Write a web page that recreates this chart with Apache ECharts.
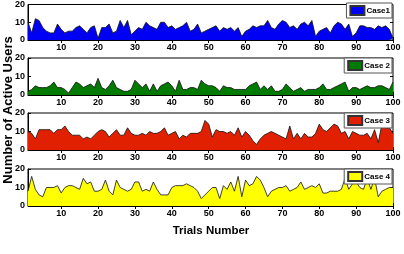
<!DOCTYPE html>
<html>
<head>
<meta charset="utf-8">
<script src="https://cdn.jsdelivr.net/npm/echarts@6/dist/echarts.min.js"></script>
<style>
  html, body { margin: 0; padding: 0; background: #fff; }
  #chart { width: 404px; height: 254px; }
</style>
</head>
<body>
<div id="chart"></div>
<script>
// trial numbers 1..100
const trials = [];
for (let i = 1; i <= 100; i++) trials.push(i);

const seriesNames = ['Case1', 'Case 2', 'Case 3', 'Case 4'];
const fillColors = ['#0000F5', '#007A00', '#E02000', '#FFFF00'];

const case1 = [10, 4, 12, 11, 7, 5, 4, 4, 9, 6,
  4, 5, 5, 7, 8, 6, 4, 7, 8, 1,
  7, 7, 9, 4, 5, 11, 7, 11, 3, 5,
  7, 6, 10, 8, 7, 6, 10, 10, 7, 8,
  6, 7, 8, 10, 5, 6, 9, 4, 5, 6,
  7, 8, 5, 7, 6, 7, 5, 7, 2, 5,
  6, 8, 7, 8, 8, 11, 7, 6, 9, 11,
  10, 7, 8, 6, 9, 10, 8, 11, 2, 5,
  6, 7, 4, 8, 10, 9, 6, 9, 2, 4,
  8, 8, 7, 7, 6, 8, 7, 8, 6, 1];

const case2 = [2, 3, 5, 4, 4, 4, 5, 7, 4, 4,
  3, 1, 4, 7, 6, 4, 5, 6, 4, 9,
  4, 3, 5, 8, 4, 3, 2, 2, 3, 8,
  6, 4, 6, 2, 6, 2, 5, 6, 7, 5,
  2, 8, 3, 3, 4, 4, 3, 8, 6, 5,
  5, 4, 2, 5, 4, 4, 3, 3, 3, 3,
  5, 6, 7, 3, 5, 3, 5, 2, 2, 3,
  6, 4, 2, 3, 4, 2, 3, 3, 3, 4,
  6, 3, 3, 4, 5, 6, 7, 2, 4, 4,
  3, 4, 5, 4, 4, 5, 5, 4, 3, 7];

const case3 = [10, 9, 6, 11, 11, 11, 11, 9, 11, 11,
  13, 10, 8, 8, 8, 6, 7, 6, 8, 10,
  11, 10, 7, 9, 11, 8, 8, 12, 9, 8,
  8, 9, 8, 10, 9, 9, 10, 12, 8, 9,
  10, 6, 8, 7, 9, 9, 9, 10, 16, 14,
  7, 11, 10, 10, 9, 10, 8, 12, 7, 10,
  8, 5, 3, 6, 8, 9, 10, 9, 8, 7,
  6, 13, 6, 9, 6, 9, 7, 7, 9, 14,
  11, 10, 12, 14, 13, 9, 10, 6, 10, 9,
  8, 8, 9, 6, 11, 4, 14, 12, 12, 9];

const case4 = [8, 16, 9, 6, 5, 10, 10, 10, 11, 7,
  10, 11, 11, 10, 9, 15, 12, 13, 8, 8,
  9, 14, 8, 6, 14, 10, 9, 8, 9, 13,
  13, 8, 9, 8, 13, 9, 6, 6, 6, 10,
  11, 11, 11, 12, 11, 10, 8, 4, 6, 8,
  10, 10, 4, 11, 9, 13, 8, 16, 5, 14,
  11, 12, 16, 14, 10, 5, 8, 9, 10, 10,
  11, 8, 9, 10, 13, 9, 10, 11, 10, 12,
  7, 7, 8, 8, 8, 9, 15, 9, 12, 13,
  10, 9, 15, 9, 15, 5, 8, 9, 10, 10];

const allCases = [case1, case2, case3, case4];
const xTickValues = [10, 20, 30, 40, 50, 60, 70, 80, 90, 100];

const chart = echarts.init(document.getElementById('chart'));
const tops = [3, 58, 113, 169];
const font = 'Liberation Sans, Arial, sans-serif';

const grids = [], xAxes = [], yAxes = [], series = [], legends = [];
tops.forEach((top, i) => {
  grids.push({ left: 28, right: 11, top: top, height: 37, show: true, borderColor: '#000', borderWidth: 1, backgroundColor: 'transparent' });
  // bottom axis with labels
  xAxes.push({
    type: 'value', gridIndex: i, min: 1, max: 100,
    axisLine: { show: true, onZero: false, lineStyle: { color: '#000', width: 1 } },
    axisTick: { show: true, inside: true, length: 3, customValues: xTickValues, lineStyle: { color: '#000' } },
    axisLabel: { customValues: xTickValues, color: '#000', fontSize: 9, fontWeight: 'bold', fontFamily: font, margin: 3 },
    splitLine: { show: false }
  });
  // top axis, ticks only
  xAxes.push({
    type: 'value', gridIndex: i, min: 1, max: 100, position: 'top',
    axisLine: { show: false },
    axisTick: { show: true, inside: true, length: 3, customValues: xTickValues, lineStyle: { color: '#000' } },
    axisLabel: { show: false },
    splitLine: { show: false }
  });
  yAxes.push({
    type: 'value', gridIndex: i, min: 0, max: 20, interval: 10,
    axisLine: { show: true, lineStyle: { color: '#000', width: 1 } },
    axisTick: { show: true, inside: true, length: 3, lineStyle: { color: '#000' } },
    axisLabel: { color: '#000', fontSize: 9, fontWeight: 'bold', fontFamily: font, margin: 3 },
    splitLine: { show: false }
  });
  yAxes.push({
    type: 'value', gridIndex: i, min: 0, max: 20, interval: 10, position: 'right',
    axisLine: { show: false },
    axisTick: { show: true, inside: true, length: 3, lineStyle: { color: '#000' } },
    axisLabel: { show: false },
    splitLine: { show: false }
  });
  series.push({
    name: seriesNames[i], type: 'line',
    xAxisIndex: i * 2, yAxisIndex: i * 2,
    data: trials.map((t, k) => [t, allCases[i][k]]),
    symbol: 'none', smooth: false,
    lineStyle: { color: '#111', width: 0.8 },
    itemStyle: { color: fillColors[i], borderColor: '#333', borderWidth: 0.6 },
    areaStyle: { color: fillColors[i], opacity: 1 },
    z: 1
  });
  legends.push({
    data: [seriesNames[i]],
    right: 12, top: top,
    orient: 'horizontal',
    backgroundColor: '#fff', borderColor: '#555', borderWidth: 1,
    padding: [2, 2, 2, 3],
    itemWidth: 14, itemHeight: 9, itemGap: 2,
    icon: 'rect',
    textStyle: { color: '#000', fontSize: 8, fontWeight: 'bold', fontFamily: font, padding: [0, 0, 0, -3] }
  });
});

chart.setOption({
  animation: false,
  grid: grids,
  xAxis: xAxes,
  yAxis: yAxes,
  legend: legends,
  series: series,
  graphic: [
    {
      type: 'text', x: 8, y: 110, rotation: Math.PI / 2,
      style: { text: 'Number of Active Users', fill: '#000', font: 'bold 13px Liberation Sans, Arial, sans-serif', align: 'center', verticalAlign: 'middle' }
    },
    {
      type: 'text', x: 211, y: 231,
      style: { text: 'Trials Number', fill: '#000', font: 'bold 11.5px Liberation Sans, Arial, sans-serif', align: 'center', verticalAlign: 'middle' }
    }
  ]
});
</script>
</body>
</html>
